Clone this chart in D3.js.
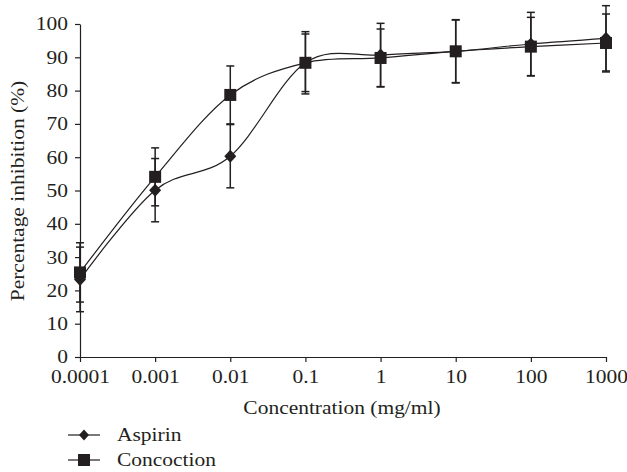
<!DOCTYPE html>
<html>
<head>
<meta charset="utf-8">
<script src="https://cdn.jsdelivr.net/npm/d3@7"></script>
<style>
  html, body { margin: 0; padding: 0; background: #ffffff; }
  svg { display: block; }
  text { font-family: "Liberation Serif", "DejaVu Serif", serif; fill: #231f20; }
</style>
</head>
<body>
<svg id="chart" width="627" height="472"></svg>
<script>
// ---- data ----
const concentrations = [0.0001, 0.001, 0.01, 0.1, 1, 10, 100, 1000];
const tickLabels = ["0.0001", "0.001", "0.01", "0.1", "1", "10", "100", "1000"];
const yTicks = [0, 10, 20, 30, 40, 50, 60, 70, 80, 90, 100];
const aspirin = [23.3, 50.1, 60.3, 88.35, 90.7, 91.8, 94.0, 95.7];
const aspirinErr = [9.7, 9.5, 9.5, 9.35, 9.5, 9.5, 9.5, 9.8];
const concoction = [25.4, 54.1, 78.7, 88.35, 89.8, 91.8, 93.2, 94.3];
const concoctionErr = [8.9, 8.7, 8.7, 8.65, 8.7, 9.4, 8.8, 8.7];
const seriesNames = ["Aspirin", "Concoction"];

const ink = "#231f20";
const fontSize = "18.5px";
const svg = d3.select("#chart");

const x = d3.scaleLog().domain([0.0001, 1000]).range([80, 606]);
const y = d3.scaleLinear().domain([0, 100]).range([357, 24]);

// axes
const yAxis = d3.axisLeft(y).tickValues(yTicks).tickSize(5).tickPadding(7).tickSizeOuter(0);
const gy = svg.append("g").attr("transform", "translate(80,0)").call(yAxis);
const xAxis = d3.axisBottom(x).tickValues(concentrations).tickFormat((d, i) => tickLabels[i])
  .tickSize(5).tickPadding(8).tickSizeOuter(0);
const gx = svg.append("g").attr("transform", "translate(0,357)").call(xAxis);
[gx, gy].forEach(g => {
  g.selectAll("path.domain").attr("stroke", ink).attr("stroke-width", 1.2);
  g.selectAll(".tick line").attr("stroke", ink).attr("stroke-width", 1.2);
  g.selectAll(".tick text").style("font-family", '"Liberation Serif", serif')
    .style("font-size", fontSize).attr("fill", ink);
});

// axis titles
svg.append("text")
  .attr("x", 342).attr("y", 414)
  .attr("text-anchor", "middle")
  .style("font-size", fontSize)
  .text("Concentration (mg/ml)");
svg.append("text")
  .attr("transform", "translate(24,191) rotate(-90)")
  .attr("text-anchor", "middle")
  .style("font-size", fontSize)
  .text("Percentage inhibition (%)");

const series = [
  { name: seriesNames[0], vals: aspirin, err: aspirinErr, shape: "diamond" },
  { name: seriesNames[1], vals: concoction, err: concoctionErr, shape: "square" }
];

// error bars
const capW = 4;
series.forEach(s => {
  const g = svg.append("g");
  concentrations.forEach((c, i) => {
    const cx = x(c);
    const top = y(s.vals[i] + s.err[i]);
    const bot = y(s.vals[i] - s.err[i]);
    g.append("line").attr("x1", cx).attr("x2", cx).attr("y1", top).attr("y2", bot)
      .attr("stroke", ink).attr("stroke-width", 1.5);
    [top, bot].forEach(yy => {
      g.append("line").attr("x1", cx - capW).attr("x2", cx + capW).attr("y1", yy).attr("y2", yy)
        .attr("stroke", ink).attr("stroke-width", 1.5);
    });
  });
});

// lines
const line = d3.line()
  .x((d, i) => x(concentrations[i]))
  .y(d => y(d))
  .curve(d3.curveCardinal.tension(0));
series.forEach(s => {
  svg.append("path").attr("d", line(s.vals))
    .attr("fill", "none").attr("stroke", ink).attr("stroke-width", 1.2);
});

// markers
function drawMarker(g, shape, cx, cy) {
  if (shape === "square") {
    g.append("rect").attr("x", cx - 6).attr("y", cy - 6).attr("width", 12).attr("height", 12)
      .attr("fill", ink);
  } else {
    g.append("path").attr("d", `M${cx},${cy - 6.5}L${cx + 6},${cy}L${cx},${cy + 6.5}L${cx - 6},${cy}Z`)
      .attr("fill", ink);
  }
}
series.forEach(s => {
  const g = svg.append("g");
  concentrations.forEach((c, i) => drawMarker(g, s.shape, x(c), y(s.vals[i])));
});

// legend
series.forEach((s, i) => {
  const ly = 435 + i * 25;
  const g = svg.append("g");
  g.append("line").attr("x1", 68).attr("x2", 100).attr("y1", ly).attr("y2", ly)
    .attr("stroke", ink).attr("stroke-width", 1.2);
  if (s.shape === "square") {
    g.append("rect").attr("x", 78).attr("y", ly - 6).attr("width", 12).attr("height", 12).attr("fill", ink);
  } else {
    g.append("path").attr("d", `M84,${ly - 5.5}L89,${ly}L84,${ly + 5.5}L79,${ly}Z`).attr("fill", ink);
  }
  g.append("text").attr("x", 117).attr("y", ly + 6)
    .style("font-size", fontSize).text(s.name);
});

// widen glyphs to approximate the wider serif face of the original
svg.selectAll("text").each(function () {
  const w = this.getComputedTextLength();
  if (w > 0) {
    d3.select(this).attr("textLength", w * 1.16).attr("lengthAdjust", "spacingAndGlyphs");
  }
});
</script>
</body>
</html>
